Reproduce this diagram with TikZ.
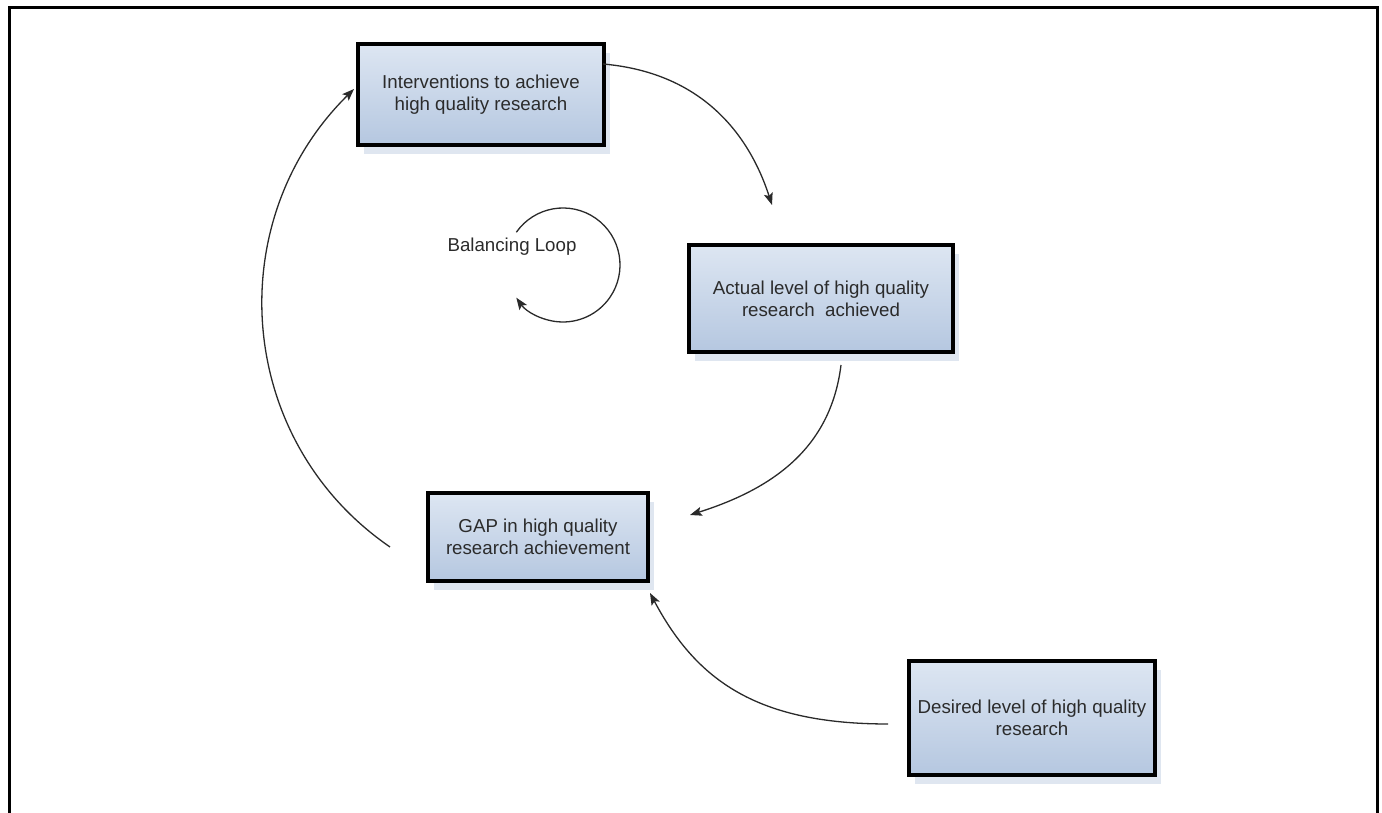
\documentclass[tikz,border=0pt]{standalone}
\usepackage{fontspec}
\setmainfont{Liberation Sans}
\usetikzlibrary{arrows.meta,shadows,calc}
\definecolor{boxtop}{HTML}{DDE6F2}
\definecolor{boxbot}{HTML}{B5C7E0}
\definecolor{shadowc}{HTML}{DFE6F0}
\definecolor{txt}{HTML}{2B2B2B}
\definecolor{conn}{HTML}{2A2A2A}
\begin{document}
\begin{tikzpicture}[x=1pt,y=1pt,
  cbox/.style={draw=black, line width=4pt, top color=boxtop, bottom color=boxbot,
    drop shadow={shadow xshift=6pt, shadow yshift=-9pt, fill=shadowc, opacity=1},
    align=center, font=\fontsize{18.7}{22}\selectfont, text=txt, inner sep=2pt},
  link/.style={draw=conn, line width=1.3pt, -{Stealth[length=12pt,width=9pt,inset=2.5pt]}},
  lbl/.style={font=\fontsize{18.7}{22}\selectfont, text=txt, inner sep=0pt}]
\useasboundingbox (0,0) rectangle (1382,813);
\draw[line width=3pt] (9,-5) -- (9,805) -- (1377,805) -- (1377,-5);

\node[cbox, minimum width=246pt, minimum height=101pt] (int) at (481,718.5) {Interventions to achieve\\high quality research};
\node[cbox, minimum width=264pt, minimum height=107pt] (act) at (821,514.5) {Actual level of high quality\\research\ \ achieved};
\node[cbox, minimum width=220pt, minimum height=88pt] (gap) at (538,276) {GAP in high quality\\research achievement};
\node[cbox, minimum width=246pt, minimum height=114pt] (des) at (1032,95) {Desired level of high quality\\research};

\coordinate (c1s) at ($(int.north east)+(-3,-22)$);
\coordinate (c1e) at ($(act.north)+(-49,38)$);
\draw[link] (c1s) .. controls +(-5:103) and +(108:70) .. (c1e);

\coordinate (c2s) at ($(act.south)+(20,-11)$);
\coordinate (c2e) at ($(gap.east)+(40,22)$);
\draw[link] (c2s) .. controls +(-97:85) and +(17.6:85) .. (c2e);

\coordinate (c3s) at ($(des.west)+(-19,-6)$);
\coordinate (c3e) at ($(gap.south east)+(0,-10)$);
\draw[link] (c3s) .. controls +(180:130) and +(-62:100) .. (c3e);

\coordinate (c4s) at ($(gap.west)+(-36,-10)$);
\coordinate (c4e) at ($(int.west)+(-2,5.5)$);
\draw[link] (c4s) .. controls +(145.5:188) and +(224.6:188) .. (c4e);

\coordinate (lc) at (563,548);
\draw[link] ($(lc)+(145:57)$) arc[start angle=145,end angle=-145,radius=57];
\node[lbl] (bl) at (512,566) {Balancing Loop};
\end{tikzpicture}
\end{document}
